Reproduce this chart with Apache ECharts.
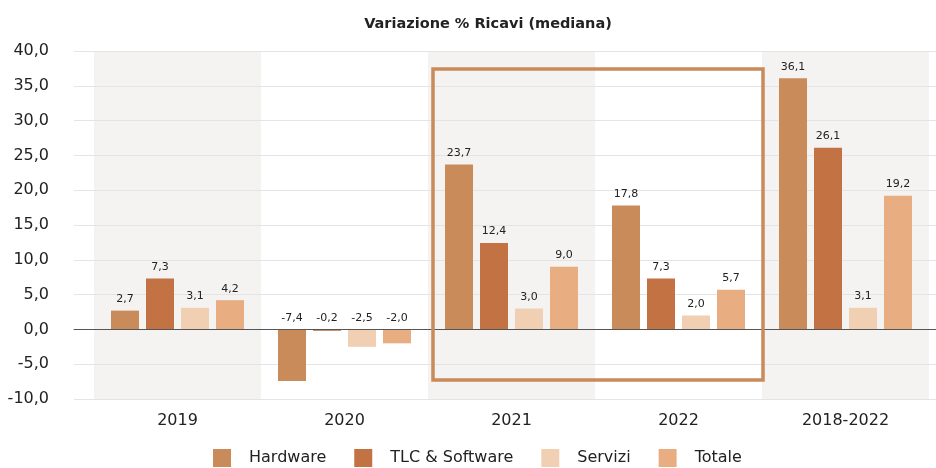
<!DOCTYPE html>
<html><head><meta charset="utf-8">
<script src="https://cdn.jsdelivr.net/npm/echarts@6/dist/echarts.min.js"></script>
<style>html,body{margin:0;padding:0;background:#fff}#c{width:936px;height:468px}</style>
</head><body><div id="c"></div>
<script>
const categories = ['2019', '2020', '2021', '2022', '2018-2022'];
const hardware = [2.7, -7.4, 23.7, 17.8, 36.1];
const tlcSoftware = [7.3, -0.2, 12.4, 7.3, 26.1];
const servizi = [3.1, -2.5, 3.0, 2.0, 3.1];
const totale = [4.2, -2.0, 9.0, 5.7, 19.2];
const seriesNames = ['Hardware', 'TLC & Software', 'Servizi', 'Totale'];
const colors = ['#c98b5a', '#c27243', '#f1cfb3', '#e8ad81'];
const yMin = -10, yMax = 40, yStep = 5;

const FONT = 'DejaVu Sans';
const fmt = v => v.toFixed(1).replace('.', ',');

const chart = echarts.init(document.getElementById('c'), null, {renderer: 'canvas'});
const seriesData = [hardware, tlcSoftware, servizi, totale];

const series = seriesData.map((d, i) => ({
  name: seriesNames[i],
  type: 'bar',
  xAxisIndex: 1, yAxisIndex: 1,
  barWidth: 28,
  barGap: '25%',
  itemStyle: {color: colors[i]},
  data: d,
  label: {
    show: true,
    position: 'top',
    distance: 6,
    fontFamily: FONT, fontSize: 11, color: '#222',
    formatter: p => fmt(p.value)
  }
}));

chart.setOption({
  animation: false,
  color: colors,
  title: {
    text: 'Variazione % Ricavi (mediana)',
    left: 483, textAlign: 'center', top: 12,
    textStyle: {fontFamily: FONT, fontWeight: 'bold', fontSize: 14.5, color: '#222'}
  },
  legend: {
    top: 449, left: 213, padding: 0,
    itemWidth: 18, itemHeight: 18, itemGap: 28,
    icon: 'rect',
    textStyle: {fontFamily: FONT, fontSize: 16, color: '#222', padding: [0, 0, 0, 13]},
    data: seriesNames
  },
  grid: [
    {left: 74, right: 0, top: 51, bottom: 69},
    {left: 94, right: 7, top: 51, bottom: 69}
  ],
  xAxis: [
    {type: 'value', gridIndex: 0, min: 0, max: 1, z: 3,
     axisLine: {show: true, onZero: true, lineStyle: {color: '#555', width: 1}},
     axisTick: {show: false}, axisLabel: {show: false}, splitLine: {show: false}},
    {type: 'category', gridIndex: 1, data: categories, z: 0,
     axisLine: {show: false}, axisTick: {show: false},
     axisLabel: {fontFamily: FONT, fontSize: 16, color: '#222', margin: 14},
     splitArea: {show: true, areaStyle: {color: ['#f4f3f1', 'rgba(255,255,255,0)']}}}
  ],
  yAxis: [
    {type: 'value', gridIndex: 0, min: yMin, max: yMax, interval: yStep, z: 1,
     axisLine: {show: false}, axisTick: {show: false},
     axisLabel: {fontFamily: FONT, fontSize: 16, color: '#222', margin: 25, formatter: v => fmt(v)},
     splitLine: {lineStyle: {color: '#e4e4e4', width: 1}}},
    {type: 'value', gridIndex: 1, min: yMin, max: yMax, interval: yStep, show: false,
     splitLine: {show: false}}
  ],
  series: series,
  graphic: [{
    type: 'rect', z: 100,
    shape: {x: 433, y: 69, width: 330, height: 311},
    style: {fill: 'none', stroke: '#c98b5a', lineWidth: 3.5}
  }]
});
</script></body></html>
